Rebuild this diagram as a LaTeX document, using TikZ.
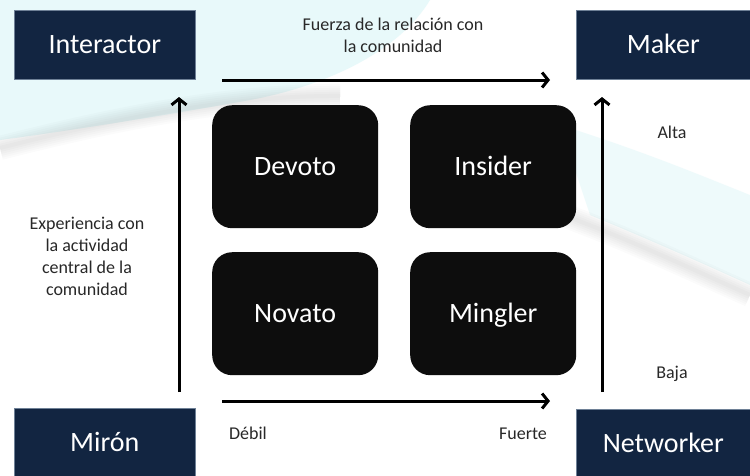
\documentclass[tikz,border=0pt]{standalone}
\usepackage{fontspec}
\setmainfont{Carlito}
\usetikzlibrary{arrows.meta}
\definecolor{navy}{RGB}{18,37,65}
\definecolor{navyedge}{RGB}{110,128,150}
\definecolor{blk}{RGB}{13,13,13}
\definecolor{txt}{RGB}{40,40,40}
\definecolor{bgcyan}{RGB}{232,249,250}
\tikzset{
  corner/.style={fill=navy, draw=navyedge, line width=0.6pt, text=white, inner sep=0pt,
    font=\fontsize{28}{30}\selectfont, text height=18pt, text depth=0pt,
    minimum width=181pt, minimum height=69pt, anchor=north west},
  cornerr/.style={corner, minimum width=174pt},
  quad/.style={fill=blk, rounded corners=20pt, text=white, inner sep=0pt,
    font=\fontsize{28}{30}\selectfont, text height=18pt, text depth=0pt,
    minimum width=166pt, minimum height=123pt, anchor=north west},
  lbl/.style={text=txt, font=\fontsize{18}{22}\selectfont, align=center, inner sep=0pt},
  axis/.style={line width=3pt, -{Straight Barb[length=6pt,width=15pt]}},
  swoosh/.style={gray, opacity=0.03}
}
\begin{document}
\begin{tikzpicture}[x=1pt,y=-1pt]
\useasboundingbox (0,0) rectangle (750,475);
% background swooshes
\fill[white] (0,0) rectangle (750,475);
\fill[bgcyan] (0,0) -- (430,0) .. controls (400,50) and (330,85) .. (250,100)
  .. controls (150,118) and (60,132) .. (0,140) -- cycle;
\fill[bgcyan, opacity=0.7] (560,125) .. controls (640,150) and (700,175) .. (750,195)
  -- (750,285) .. controls (700,262) and (640,236) .. (590,215) -- cycle;
\foreach \w in {4,8,12,16,20,24} {
  \draw[swoosh, line width=\w pt] (0,148) .. controls (90,125) and (220,95) .. (340,96);
  \draw[swoosh, line width=\w pt] (430,175) .. controls (560,205) and (660,255) .. (750,295);
}
% corner boxes
\node[corner] (int) at (14,10) {Interactor};
\node[cornerr] (mak) at (576,10) {Maker};
\node[corner] (mir) at (14,408) {Mirón};
\node[cornerr] (net) at (576,409) {Networker};
% quadrant boxes
\node[quad] (dev) at (212,105) {Devoto};
\node[quad] (ins) at (410,105) {Insider};
\node[quad] (nov) at (212,252) {Novato};
\node[quad] (min) at (410,252) {Mingler};
% axes
\coordinate (ta) at (222,80);
\coordinate (tb) at (550,80);
\coordinate (ba) at (222,401);
\coordinate (bb) at (550,401);
\coordinate (la) at (179,392);
\coordinate (lb) at (179,97);
\coordinate (ra) at (602,392);
\coordinate (rb) at (602,97);
\draw[axis] (ta) -- (tb);
\draw[axis] (ba) -- (bb);
\draw[axis] (la) -- (lb);
\draw[axis] (ra) -- (rb);
% labels
\node[lbl] (fz) at (393,35) {Fuerza de la relación con\\la comunidad};
\node[lbl] (exp) at (87,256) {Experiencia con\\la actividad\\central de la\\comunidad};
\node[lbl] (alta) at (672,132) {Alta};
\node[lbl] (baja) at (672,374) {Baja};
\node[lbl] (deb) at (248,433) {Débil};
\node[lbl] (fue) at (523,434) {Fuerte};
\end{tikzpicture}
\end{document}
